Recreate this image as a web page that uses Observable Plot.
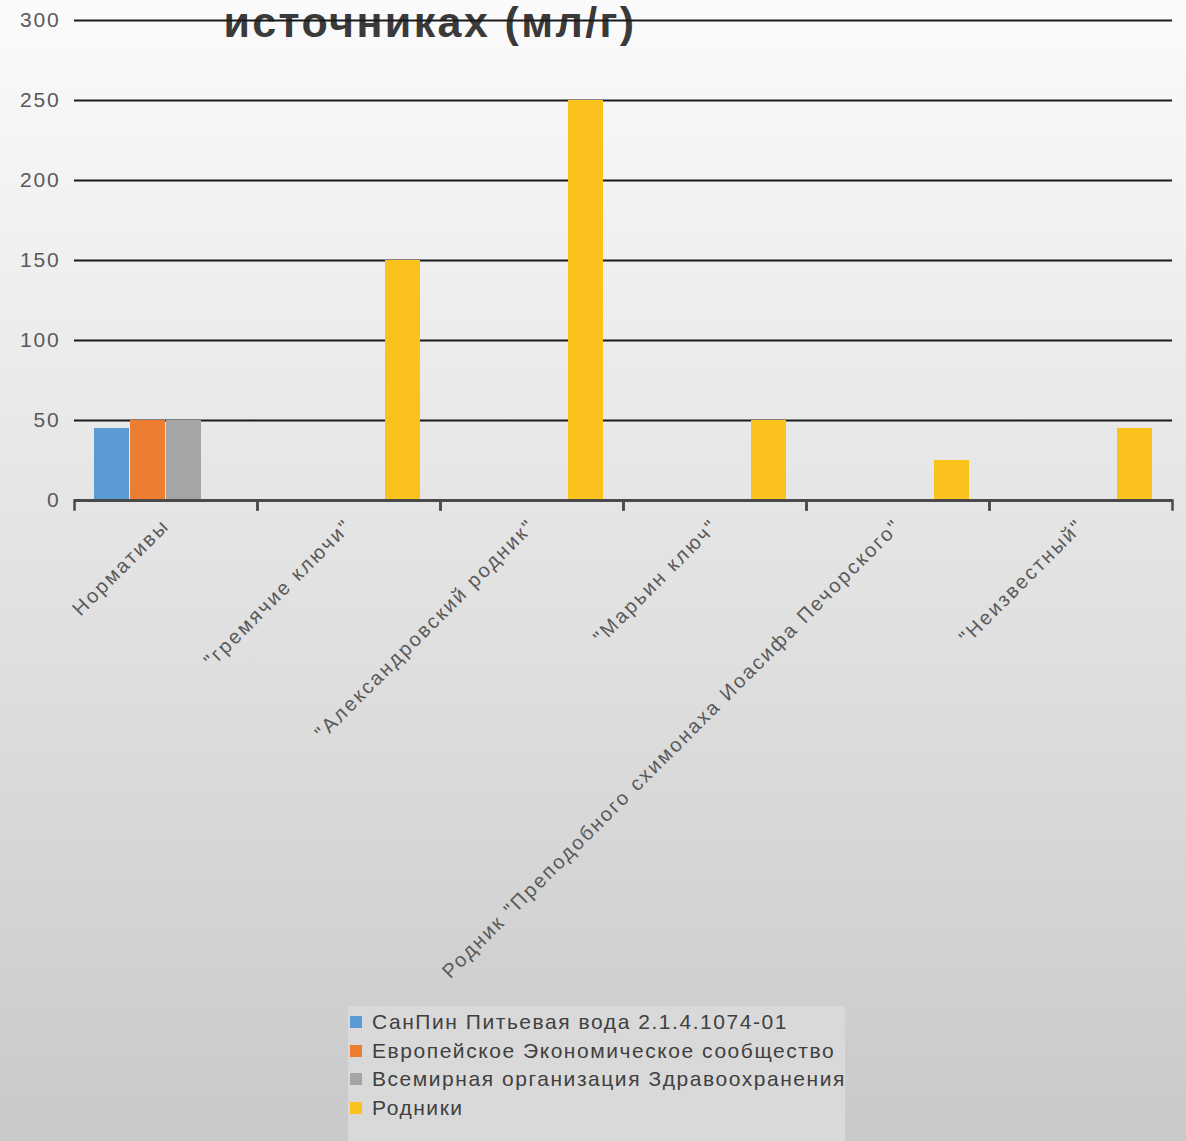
<!DOCTYPE html>
<html>
<head>
<meta charset="utf-8">
<script src="https://cdn.jsdelivr.net/npm/d3@7"></script>
<script src="https://cdn.jsdelivr.net/npm/@observablehq/plot@0.6"></script>
<style>
  html, body { margin: 0; padding: 0; }
  body {
    width: 1186px; height: 1141px; overflow: hidden; position: relative;
    background: linear-gradient(to bottom, #fbfbfb 0%, #ececec 30%, #dedede 60%, #c9c9c9 100%);
    font-family: "Liberation Sans", Arial, sans-serif;
  }
  #title {
    position: absolute; left: 0; width: 860px; top: 0px; text-align: center;
    font-size: 43px; font-weight: bold; line-height: 44px; color: #3a3a3a; letter-spacing: 2.4px;
  }
  #chart { position: absolute; left: 0; top: 0; }
  #legend {
    position: absolute; left: 348px; top: 1006px; width: 497px; height: 140px;
    background: #d9d9d9; box-sizing: border-box; padding: 2px 0 0 2px;
    font-size: 21px; color: #404040; letter-spacing: 1.55px;
  }
  .item { display: flex; align-items: center; height: 28.5px; white-space: nowrap; }
  .sw { width: 12px; height: 12px; margin-right: 10px; flex-shrink: 0; }
</style>
</head>
<body>
<div id="title">источниках (мл/г)</div>
<div id="chart"></div>
<div id="legend"></div>
<script>
const categories = [
  "Нормативы",
  "\"гремячие ключи\"",
  "\"Александровский родник\"",
  "\"Марьин ключ\"",
  "Родник \"Преподобного схимонаха Иоасифа Печорского\"",
  "\"Неизвестный\""
];
const seriesNames = [
  "СанПин Питьевая вода 2.1.4.1074-01",
  "Европейское Экономическое сообщество",
  "Всемирная организация Здравоохранения",
  "Родники"
];
const seriesColors = ["#5b9bd5", "#ed7d31", "#a5a5a5", "#fbc21d"];
const sanpin  = [45, null, null, null, null, null];
const eec     = [50, null, null, null, null, null];
const who     = [50, null, null, null, null, null];
const springs = [null, 150, 250, 50, 25, 45];
const yTicks = [0, 50, 100, 150, 200, 250, 300];

const seriesValues = [sanpin, eec, who, springs];
const rows = [];
categories.forEach((c, i) => {
  seriesNames.forEach((s, j) => {
    const v = seriesValues[j][i];
    if (v != null) rows.push({category: c, series: s, value: v});
  });
});

const plot = Plot.plot({
  width: 1186,
  height: 1000,
  marginTop: 20,
  marginBottom: 500,
  marginLeft: 72,
  marginRight: 13,
  style: {background: "transparent", fontFamily: "'Liberation Sans', Arial, sans-serif"},
  fx: {domain: categories, padding: 0, label: null, axis: "bottom", tickRotate: -45, tickSize: 0, tickPadding: 22},
  x: {domain: seriesNames, axis: null, paddingInner: 0.04, paddingOuter: 0.51},
  y: {domain: [0, 300], ticks: yTicks, label: null, tickSize: 0, tickPadding: 14, tickFormat: d => String(d)},
  color: {domain: seriesNames, range: seriesColors},
  marks: [
    Plot.ruleY(yTicks.filter(d => d > 0), {stroke: "#1a1a1a", strokeWidth: 2}),
    Plot.barY(rows, {fx: "category", x: "series", y: "value", fill: "series"}),
    Plot.ruleY([0], {stroke: "#4a4a4a", strokeWidth: 3}),
    Plot.frame({anchor: "left", insetTop: 480, insetBottom: -9, stroke: "#4a4a4a", strokeWidth: 2.5}),
    Plot.frame({anchor: "right", insetTop: 480, insetBottom: -9, stroke: "#4a4a4a", strokeWidth: 2.5})
  ]
});
d3.select(plot).selectAll("[aria-label='y-axis tick label']")
  .style("font-size", "21px").style("letter-spacing", "1.8px").attr("fill", "#595959");
d3.select(plot).selectAll("[aria-label='fx-axis tick label']")
  .style("font-size", "20px").style("letter-spacing", "2.3px").attr("fill", "#595959");
document.getElementById("chart").appendChild(plot);

const legend = d3.select("#legend");
seriesNames.forEach((s, i) => {
  const it = legend.append("div").attr("class", "item");
  it.append("div").attr("class", "sw").style("background", seriesColors[i]);
  it.append("span").text(s);
});
</script>
</body>
</html>
